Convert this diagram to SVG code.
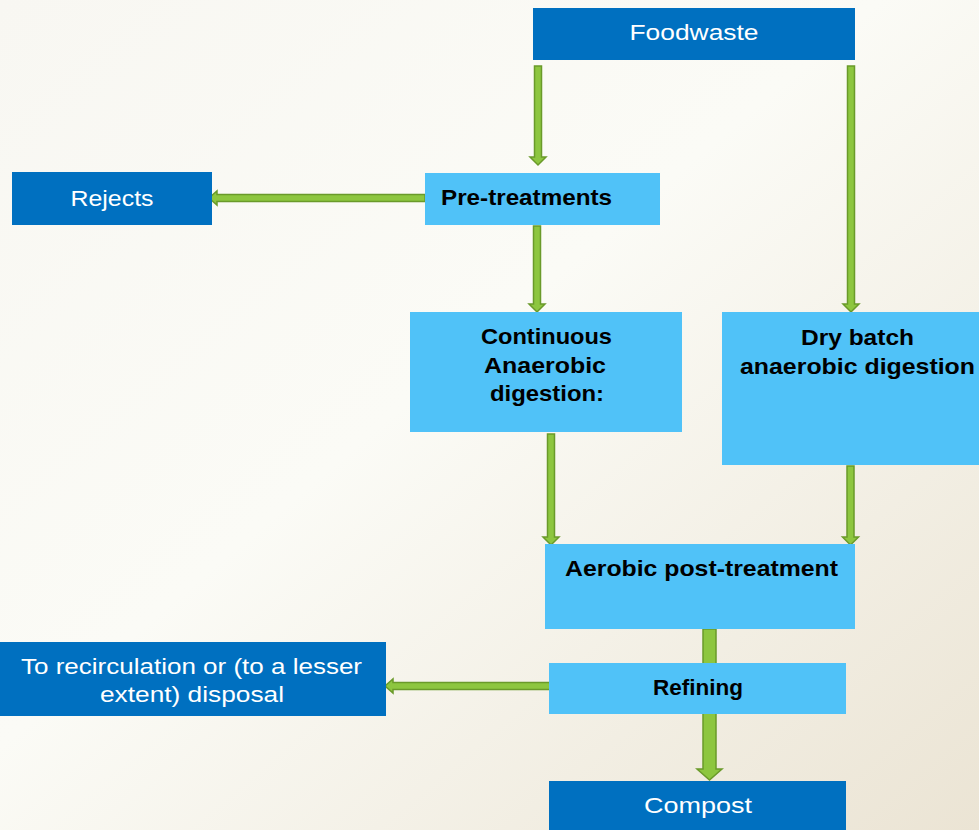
<svg xmlns="http://www.w3.org/2000/svg" width="979" height="830" viewBox="0 0 979 830">
  <style>
    .dark { fill: #0070c0; }
    .light { fill: #50c2f8; }
    .lbl { font-family: "Liberation Sans", Arial, sans-serif; font-size: 22px; fill: #ffffff; text-anchor: middle; }
    .blk { font-family: "Liberation Sans", Arial, sans-serif; font-size: 22px; font-weight: bold; fill: #000000; text-anchor: middle; }
    .arrow { fill: #8dc63f; stroke: #6a9a2a; stroke-width: 1.5; stroke-linejoin: miter; }
  </style>
  <defs>
    <linearGradient id="bg" x1="0" y1="0" x2="1" y2="1">
      <stop offset="0" stop-color="#f8f7f2"/>
      <stop offset="0.45" stop-color="#fbfbf6"/>
      <stop offset="1" stop-color="#ebe4d4"/>
    </linearGradient>
  </defs>
  <rect x="0" y="0" width="979" height="830" fill="url(#bg)"/>

  <g id="connectors">
    <!-- Foodwaste -> Pre-treatments -->
    <path class="arrow" d="M534.5,66 H541.5 V157 H546 L538,165 L530,157 H534.5 Z"/>
    <!-- Foodwaste -> Dry batch -->
    <path class="arrow" d="M847.5,66 H854.5 V304 H859 L851,312 L843,304 H847.5 Z"/>
    <!-- Pre-treatments -> Rejects -->
    <path class="arrow" d="M425,194.5 V201.5 H217 V205 L209,198 L217,191 V194.5 Z"/>
    <!-- Pre-treatments -> Continuous -->
    <path class="arrow" d="M533.5,226 H540.5 V304 H545 L537,312 L529,304 H533.5 Z"/>
    <!-- Continuous -> Aerobic -->
    <path class="arrow" d="M547.5,434 H554.5 V537 H559 L551,545 L543,537 H547.5 Z"/>
    <!-- Dry batch -> Aerobic -->
    <path class="arrow" d="M847,466 H854 V537 H858.5 L850.5,545 L842.5,537 H847 Z"/>
    <!-- Aerobic -> Refining -> Compost -->
    <path class="arrow" d="M703,629 H716 V769 H722 L709.5,780 L697,769 H703 Z"/>
    <!-- Refining -> recirculation / disposal -->
    <path class="arrow" d="M552,682.5 V689.5 H393 V693 L385,686 L393,679 V682.5 Z"/>
  </g>

  <g id="foodwaste">
    <rect class="dark" x="533" y="8" width="322" height="52"/>
    <text class="lbl" x="694" y="40" textLength="129" lengthAdjust="spacingAndGlyphs">Foodwaste</text>
  </g>

  <g id="rejects">
    <rect class="dark" x="12" y="172" width="200" height="53"/>
    <text class="lbl" x="112" y="206" textLength="83" lengthAdjust="spacingAndGlyphs">Rejects</text>
  </g>

  <g id="pretreatments">
    <rect class="light" x="425" y="173" width="235" height="52"/>
    <text class="blk" x="526.5" y="205" textLength="171" lengthAdjust="spacingAndGlyphs">Pre-treatments</text>
  </g>

  <g id="continuous-ad">
    <rect class="light" x="410" y="312" width="272" height="120"/>
    <text class="blk" x="546.5" y="344" textLength="131" lengthAdjust="spacingAndGlyphs">Continuous</text>
    <text class="blk" x="545" y="373" textLength="122" lengthAdjust="spacingAndGlyphs">Anaerobic</text>
    <text class="blk" x="547" y="401" textLength="114" lengthAdjust="spacingAndGlyphs">digestion:</text>
  </g>

  <g id="dry-batch-ad">
    <rect class="light" x="722" y="312" width="257" height="153"/>
    <text class="blk" x="857.5" y="345" textLength="113" lengthAdjust="spacingAndGlyphs">Dry batch</text>
    <text class="blk" x="857.5" y="374" textLength="235" lengthAdjust="spacingAndGlyphs">anaerobic digestion</text>
  </g>

  <g id="aerobic">
    <rect class="light" x="545" y="544" width="310" height="85"/>
    <text class="blk" x="701.5" y="576" textLength="273" lengthAdjust="spacingAndGlyphs">Aerobic post-treatment</text>
  </g>

  <g id="refining">
    <rect class="light" x="549" y="663" width="297" height="51"/>
    <text class="blk" x="698" y="695" textLength="90" lengthAdjust="spacingAndGlyphs">Refining</text>
  </g>

  <g id="recirculation">
    <rect class="dark" x="0" y="642" width="386" height="74"/>
    <text class="lbl" x="191.5" y="674" textLength="341" lengthAdjust="spacingAndGlyphs">To recirculation or (to a lesser</text>
    <text class="lbl" x="192" y="702" textLength="184" lengthAdjust="spacingAndGlyphs">extent) disposal</text>
  </g>

  <g id="compost">
    <rect class="dark" x="549" y="781" width="297" height="49"/>
    <text class="lbl" x="698" y="813" textLength="108" lengthAdjust="spacingAndGlyphs">Compost</text>
  </g>
</svg>
